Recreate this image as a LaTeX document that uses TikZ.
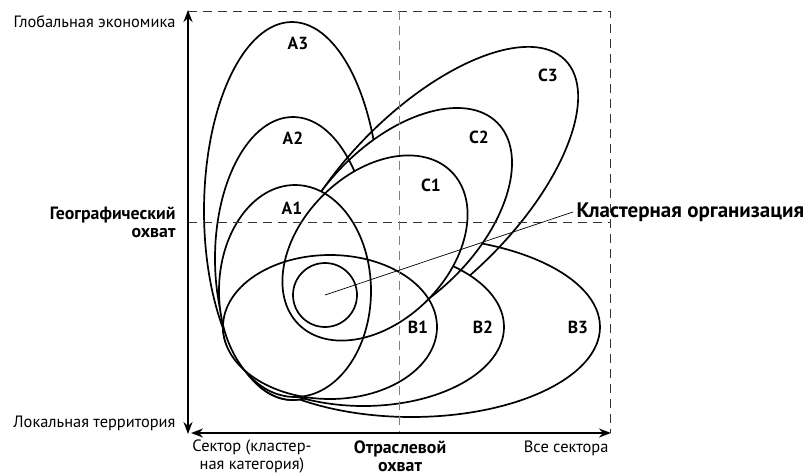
\documentclass[tikz,border=0pt]{standalone}
\usepackage{fontspec}
\setmainfont{PT Sans}
\usetikzlibrary{arrows.meta}

% ------------------------------------------------------------
% Ovals (centre, radii in px)
% ------------------------------------------------------------
\tikzset{
  ovA1/.style={insert path={(295,291) ellipse [x radius=76, y radius=106]}},
  ovA2/.style={insert path={(293,258.5) ellipse [x radius=78, y radius=141.5]}},
  ovA3/.style={insert path={(292,211) ellipse [x radius=88, y radius=189]}},
  ovB1/.style={insert path={(330,327) ellipse [x radius=107, y radius=72]}},
  ovB2/.style={insert path={(363.5,327) ellipse [x radius=140.5, y radius=79]}},
  ovB3/.style={insert path={(411.5,327) ellipse [x radius=188.5, y radius=90]}},
  ovC1/.style={rotate around={45:(375,248)}, insert path={(375,248) ellipse [x radius=108, y radius=74]}},
  ovC2/.style={rotate around={45:(400,220)}, insert path={(400,220) ellipse [x radius=137.6, y radius=78.5]}},
  ovC3/.style={rotate around={45:(430,195)}, insert path={(430,195) ellipse [x radius=191, y radius=86]}},
}

\begin{document}
\begin{tikzpicture}[x=1pt, y=-1pt, font=\fontsize{16.4}{18}\selectfont,
    oval/.style={line width=1.7pt},
    grid/.style={dash pattern=on 9pt off 6pt, line width=0.9pt},
    tag/.style={font=\fontsize{17.5}{18}\selectfont\bfseries},
    head/.style={font=\fontsize{17.8}{18}\selectfont\bfseries}]

  \useasboundingbox (0,0) rectangle (812,475);

  % ------------------------------------------------------------
  % Positionen
  % ------------------------------------------------------------

  \def\xaxis{188}
  \def\xmid{399}
  \def\xend{610}
  \def\ytop{11}
  \def\ymid{222}
  \def\yaxis{433}

  \coordinate (orig) at (\xaxis,\yaxis);
  \coordinate (top)  at (\xaxis,10);
  \coordinate (left) at (\xaxis+3,\yaxis);
  \coordinate (right) at (\xend+1,\yaxis);
  \coordinate (down) at (\xaxis,\yaxis+1);
  \coordinate (core) at (325,295);

  % ------------------------------------------------------------
  % Outer rings (level 3), hidden by level 2
  % ------------------------------------------------------------

  \draw[oval, ovA3];
  \draw[oval, ovB3];
  \fill[white, ovA2];
  \fill[white, ovB2];
  \fill[white, ovC2];
  \draw[oval, ovC3];
  \fill[white, ovB2];
  \fill[white, ovC2];

  % ------------------------------------------------------------
  % Level 2, hidden by level 1
  % ------------------------------------------------------------

  \draw[oval, ovA2];
  \draw[oval, ovB2];
  \draw[oval, ovC2];
  \fill[white, ovA1];
  \fill[white, ovB1];
  \fill[white, ovC1];

  % ------------------------------------------------------------
  % Level 1 and core
  % ------------------------------------------------------------

  \draw[oval, ovA1];
  \draw[oval, ovB1];
  \draw[oval, ovC1];
  \draw[oval] (core) circle (32);

  % ------------------------------------------------------------
  % Dashed frame
  % ------------------------------------------------------------

  \draw[grid, black!80] (\xaxis,\ytop) -- (\xend,\ytop) -- (\xend,\yaxis);
  \draw[grid, black!80] (\xaxis,\ymid) -- (\xend,\ymid);
  \draw[grid, black!50] (\xmid,\ytop) -- (\xmid,\yaxis);

  % ------------------------------------------------------------
  % Axes
  % ------------------------------------------------------------

  \draw[line width=1.8pt, {Stealth[length=12pt,width=9pt]}-{Stealth[length=12pt,width=9pt]}]
  (down) -- (top);

  \draw[line width=1.8pt, {Stealth[length=12pt,width=9pt]}-{Stealth[length=12pt,width=9pt]}]
  (left) -- (right);

  % ------------------------------------------------------------
  % Axis labels
  % ------------------------------------------------------------

  \node[anchor=east] (global) at (179,22) {Глобальная экономика};
  \node[anchor=east, align=right, head] (geo) at (179,222)
  {Географический\\охват};
  \node[anchor=east] (local) at (179,423) {Локальная территория};

  \node[align=center, inner sep=1pt] (sector) at (252,456) {Сектор (кластер-\\ная категория)};
  \node[align=center, inner sep=1pt, head] (branch) at (400,456)
  {Отраслевой\\охват};
  \node[anchor=east] (all) at (612,448) {Все сектора};

  % ------------------------------------------------------------
  % Oval labels
  % ------------------------------------------------------------

  \node[tag] (tA3) at (298,43)  {A3};
  \node[tag] (tA2) at (293,138) {A2};
  \node[tag] (tA1) at (292,208) {A1};
  \node[tag] (tB1) at (418,327) {B1};
  \node[tag] (tB2) at (483,327) {B2};
  \node[tag] (tB3) at (578,327) {B3};
  \node[tag] (tC1) at (431,185) {C1};
  \node[tag] (tC2) at (479,137) {C2};
  \node[tag] (tC3) at (548,75)  {C3};

  % ------------------------------------------------------------
  % Cluster label
  % ------------------------------------------------------------

  \node[anchor=west, font=\fontsize{21}{22}\selectfont\bfseries] (cluster) at (573,212)
  {Кластерная организация};
  \draw[line width=0.7pt] (core) -- (cluster.west);

\end{tikzpicture}
\end{document}
